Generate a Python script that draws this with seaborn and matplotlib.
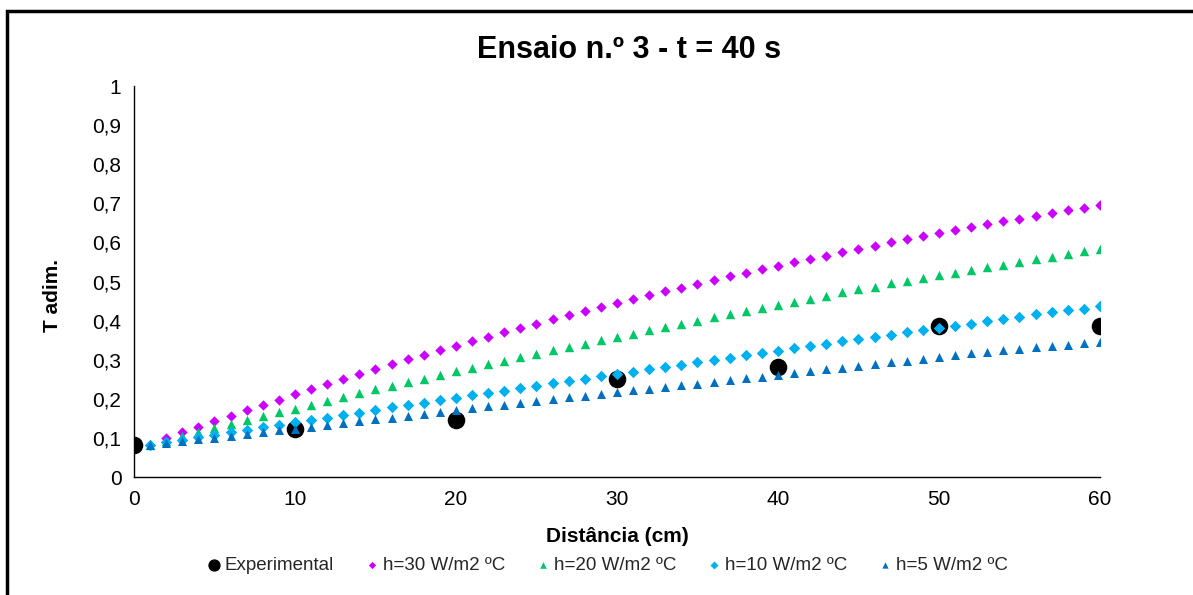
import matplotlib
matplotlib.use("Agg")
import matplotlib.pyplot as plt
import seaborn as sns
import pandas as pd
from matplotlib.patches import Rectangle

# ---- data ----
exp_x = [0, 10, 20, 30, 40, 50, 60]
exp_y = [0.083, 0.122, 0.146, 0.251, 0.281, 0.386, 0.386]

model_x = list(range(1, 61))
h30 = [0.082, 0.099, 0.114, 0.129, 0.142, 0.157, 0.171, 0.184, 0.198, 0.212,
       0.225, 0.238, 0.251, 0.264, 0.276, 0.289, 0.301, 0.312, 0.324, 0.336,
       0.348, 0.359, 0.370, 0.381, 0.392, 0.403, 0.414, 0.425, 0.435, 0.445,
       0.455, 0.465, 0.475, 0.484, 0.494, 0.503, 0.513, 0.522, 0.531, 0.540,
       0.549, 0.558, 0.566, 0.575, 0.583, 0.592, 0.600, 0.608, 0.616, 0.624,
       0.631, 0.639, 0.647, 0.654, 0.661, 0.668, 0.675, 0.682, 0.689, 0.696]
h20 = [0.082, 0.093, 0.104, 0.114, 0.126, 0.136, 0.146, 0.156, 0.166, 0.175,
       0.184, 0.194, 0.204, 0.214, 0.224, 0.233, 0.242, 0.251, 0.261, 0.270,
       0.280, 0.289, 0.298, 0.307, 0.315, 0.325, 0.333, 0.341, 0.350, 0.359,
       0.367, 0.375, 0.384, 0.391, 0.400, 0.408, 0.416, 0.424, 0.432, 0.440,
       0.448, 0.456, 0.464, 0.472, 0.480, 0.487, 0.495, 0.502, 0.508, 0.516,
       0.523, 0.529, 0.536, 0.543, 0.551, 0.558, 0.564, 0.571, 0.577, 0.584]
h10 = [0.082, 0.089, 0.095, 0.102, 0.108, 0.115, 0.121, 0.127, 0.134, 0.140,
       0.146, 0.152, 0.159, 0.165, 0.171, 0.178, 0.184, 0.190, 0.196, 0.203,
       0.209, 0.215, 0.221, 0.228, 0.233, 0.240, 0.246, 0.251, 0.258, 0.263,
       0.269, 0.275, 0.281, 0.287, 0.293, 0.299, 0.305, 0.311, 0.317, 0.323,
       0.329, 0.335, 0.341, 0.347, 0.353, 0.358, 0.364, 0.370, 0.376, 0.382,
       0.387, 0.392, 0.398, 0.404, 0.410, 0.416, 0.421, 0.426, 0.430, 0.437]
h5 = [0.082, 0.087, 0.091, 0.096, 0.101, 0.105, 0.110, 0.115, 0.119, 0.124,
      0.129, 0.133, 0.138, 0.143, 0.148, 0.152, 0.157, 0.162, 0.166, 0.171,
      0.176, 0.181, 0.185, 0.190, 0.194, 0.199, 0.204, 0.208, 0.212, 0.217,
      0.222, 0.225, 0.230, 0.235, 0.239, 0.244, 0.248, 0.253, 0.257, 0.262,
      0.266, 0.271, 0.275, 0.280, 0.284, 0.289, 0.293, 0.298, 0.302, 0.307,
      0.311, 0.316, 0.320, 0.325, 0.328, 0.332, 0.335, 0.338, 0.342, 0.346]

labels = ["Experimental", "h=30 W/m2 ºC", "h=20 W/m2 ºC", "h=10 W/m2 ºC", "h=5 W/m2 ºC"]
colors = ["#000000", "#CC00FF", "#00C864", "#00B0F0", "#0070C0"]
markers = ["o", "D", "^", "D", "^"]
sizes = [160, 28, 46, 34, 42]

x_ticks = [0, 10, 20, 30, 40, 50, 60]
y_ticks = [0, 0.1, 0.2, 0.3, 0.4, 0.5, 0.6, 0.7, 0.8, 0.9, 1.0]
y_tick_labels = ["0", "0,1", "0,2", "0,3", "0,4", "0,5", "0,6", "0,7", "0,8", "0,9", "1"]

# ---- plot ----
sns.set_theme(style="white")
plt.rcParams["font.family"] = ["Liberation Sans", "DejaVu Sans"]

fig = plt.figure(figsize=(11.93, 5.95), dpi=100)
ax = fig.add_axes([0.1123, 0.1983, 0.8097, 0.6571])

series = [(exp_x, exp_y)] + [(model_x, s) for s in (h30, h20, h10, h5)]
for (xs, ys), lab, col, mk, sz in zip(series, labels, colors, markers, sizes):
    df = pd.DataFrame({"x": xs, "y": ys})
    sns.scatterplot(data=df, x="x", y="y", ax=ax, color=col, marker=mk, s=sz,
                    linewidth=0, label=lab, legend=False, zorder=3)

ax.set_xlim(0, 60)
ax.set_ylim(0, 1)
ax.set_xticks(x_ticks)
ax.set_yticks(y_ticks)
ax.set_yticklabels(y_tick_labels)
ax.tick_params(axis="both", direction="out", length=5, width=1, color="black",
               labelsize=15, labelcolor="black", pad=4)
for side in ["top", "right"]:
    ax.spines[side].set_visible(False)
for side in ["left", "bottom"]:
    ax.spines[side].set_color("black")
    ax.spines[side].set_linewidth(1)

ax.set_xlabel("Distância (cm)", fontsize=15, fontweight="bold", color="black")
ax.xaxis.set_label_coords(0.5, -0.128)
ax.set_ylabel("T adim.", fontsize=15, fontweight="bold", color="black")
ax.yaxis.set_label_coords(-0.0745, 0.465)

fig.text(0.527, 0.916, "Ensaio n.º 3 - t = 40 s", ha="center", va="center",
         fontsize=22, fontweight="bold", color="black")

handles, labs = ax.get_legend_handles_labels()
leg = fig.legend(handles, labs, loc="center", bbox_to_anchor=(0.508, 0.049),
                 ncol=5, frameon=False, fontsize=13.5, markerscale=0.7,
                 handletextpad=0.1, columnspacing=1.5, handlelength=1.0)

fig.patches.append(Rectangle((0.0059, -0.2), 1.5, 0.9815 + 0.2,
                             transform=fig.transFigure, fill=False,
                             edgecolor="black", linewidth=2.5))

fig.savefig("out.png", dpi=100, facecolor="white")
